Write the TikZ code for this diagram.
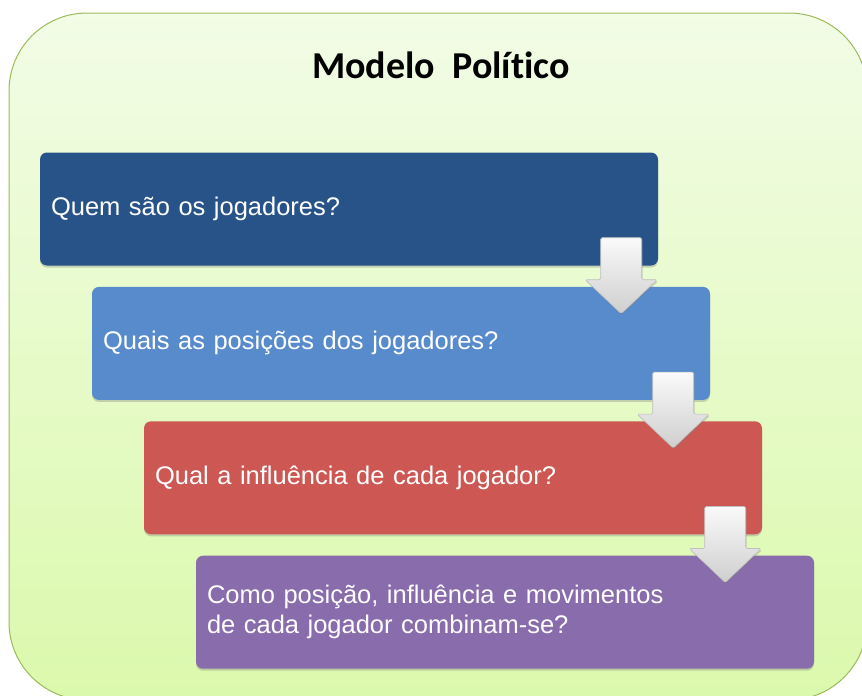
\documentclass[tikz,border=0pt]{standalone}
\usepackage{fontspec}
\setmainfont{Liberation Sans}
\newfontfamily\titlefont[Ligatures=NoCommon]{Carlito}
\usetikzlibrary{positioning,calc,shadows}

\definecolor{bgtop}{HTML}{F2FCE6}
\definecolor{bgbot}{HTML}{DBF9AC}
\definecolor{bgline}{HTML}{9BBB59}
\definecolor{jogblue}{HTML}{285389}
\definecolor{posblue}{HTML}{578BCB}
\definecolor{infred}{HTML}{CD5753}
\definecolor{movpurple}{HTML}{896CAC}

\tikzset{
  question/.style={rectangle, rounded corners=7pt, text width=596pt, inner xsep=11pt,
    minimum height=113pt, align=left, text=white, font=\fontsize{25.5}{30}\selectfont,
    drop shadow={shadow xshift=0pt, shadow yshift=-2pt, opacity=0.35}},
  downarrow/.style={draw=gray!50, line width=0.6pt, rounded corners=1.5pt,
    top color=gray!4, bottom color=gray!38,
    drop shadow={shadow xshift=1pt, shadow yshift=-1.5pt, opacity=0.3}}
}

\begin{document}
\begin{tikzpicture}[x=1pt, y=-1pt]
\clip (0,0) rectangle (862,696);
% background panel
\draw[bgline, line width=1pt, top color=bgtop, bottom color=bgbot, rounded corners=78pt]
  (9,13) rectangle (867,700);
\node[font=\titlefont\bfseries\fontsize{38}{40}\selectfont] (title) at (441,65) {Modelo\ \ Político};
% question boxes
\node[question, fill=jogblue] (q1) at (349,209) {Quem são os jogadores?};
\node[question, fill=posblue, below=21pt of q1, xshift=52pt] (q2) {Quais as posições dos jogadores?};
\node[question, fill=infred, below=21pt of q2, xshift=52pt] (q3) {Qual a influência de cada jogador?};
\node[question, fill=movpurple, below=21pt of q3, xshift=52pt] (q4)
  {Como posição, influência e movimentos\\de cada jogador combinam-se?};
% arrows
\foreach \q in {q1,q2,q3}
  \draw[downarrow, shift={($(\q.south east)+(-37,-28)$)}]
    (-20.5,0) -- (20.5,0) -- (20.5,42) -- (36,42) -- (0,76) -- (-36,42) -- (-20.5,42) -- cycle;
\end{tikzpicture}
\end{document}
